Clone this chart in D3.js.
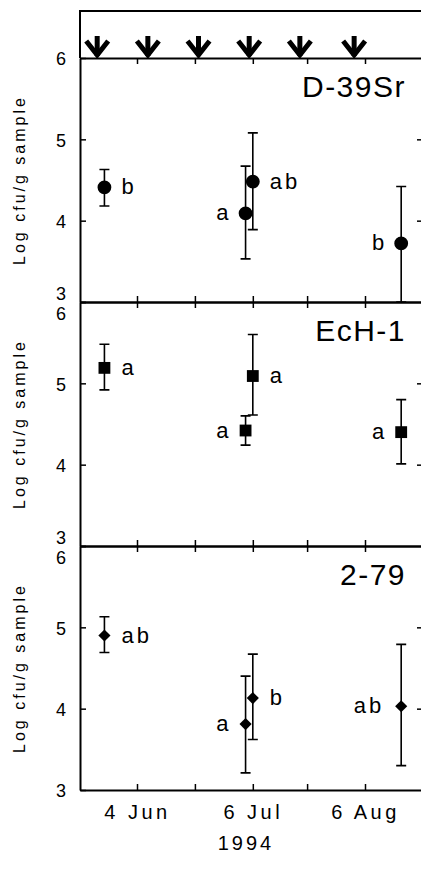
<!DOCTYPE html>
<html>
<head>
<meta charset="utf-8">
<script src="https://cdn.jsdelivr.net/npm/d3@7"></script>
<style>
  body { margin: 0; background: #fff; }
  svg  { display: block; font-family: "Liberation Sans", Arial, Helvetica, sans-serif; }
</style>
</head>
<body>
<svg id="chart" width="421" height="872"></svg>
<script>
const parse = d3.timeParse("%Y-%m-%d");

/* ── DATI ─────────────────────────────────────── */
const panels      = ["D-39Sr", "EcH-1", "2-79"];
const markers     = ["circle", "square", "diamond"];
const sampleDates = ["1994-05-26", "1994-07-04", "1994-07-06", "1994-08-16"];
const means  = [[4.41, 4.09, 4.48, 3.72], [5.19, 4.42, 5.09, 4.40], [4.90, 3.81, 4.13, 4.03]];
const upper  = [[4.63, 4.67, 5.08, 4.42], [5.48, 4.60, 5.60, 4.80], [5.13, 4.40, 4.67, 4.79]];
const lower  = [[4.18, 3.53, 3.89, 3.00], [4.92, 4.24, 4.61, 4.01], [4.69, 3.21, 3.62, 3.30]];
const letters     = [["b", "a", "ab", "b"], ["a", "a", "a", "a"], ["ab", "a", "b", "ab"]];
const letterSide  = [["r", "l", "r", "l"], ["r", "l", "r", "l"], ["r", "l", "r", "l"]];
const sprayDates  = ["1994-05-24", "1994-06-07", "1994-06-21", "1994-07-05", "1994-07-19", "1994-08-03"];
const tickDates   = ["1994-06-04", "1994-06-20", "1994-07-06", "1994-07-21", "1994-08-06"];
const tickLabels  = ["4 Jun", "", "6 Jul", "", "6 Aug"];
const yTicks      = [3, 4, 5, 6];
const yLabel      = "Log cfu/g sample";
const yearLabel   = "1994";

/* ── LAYOUT ───────────────────────────────────── */
const LEFT = 80, RIGHT = 423;
const BOX_TOP = 11, PANEL_TOP = 58, PANEL_H = 244;

const svg = d3.select("#chart");

// scala ancorata su 4 Jun / 6 Aug, poi estesa ai bordi
const xa = d3.scaleTime().domain([parse("1994-06-04"), parse("1994-08-06")]).range([137, 365]);
const x  = d3.scaleTime().domain([xa.invert(LEFT), xa.invert(RIGHT)]).range([LEFT, RIGHT]);

/* ── BOX FRECCE ───────────────────────────────── */
svg.append("path")
  .attr("d", `M${LEFT},${PANEL_TOP}V${BOX_TOP}H${RIGHT}`)
  .attr("fill", "none").attr("stroke", "#000").attr("stroke-width", 2);

const arrows = svg.append("g").attr("stroke", "#000").attr("fill", "none")
  .attr("stroke-width", 5).attr("stroke-linejoin", "miter");
sprayDates.forEach(d => {
  const cx = x(parse(d));
  arrows.append("path").attr("d", `M${cx},36V56`);
  arrows.append("path").attr("d", `M${cx - 11},41L${cx},55L${cx + 11},41`);
});

/* ── PANNELLI ─────────────────────────────────── */
const sym = {
  circle:  d3.symbol(d3.symbolCircle, 150),
  square:  d3.symbol(d3.symbolSquare, 140),
  diamond: d3.symbol(d3.symbolSquare, 74)
};

panels.forEach((name, i) => {
  const top = PANEL_TOP + i * PANEL_H;
  const bot = top + PANEL_H;
  const y = d3.scaleLinear().domain([3, 6]).range([bot, top]);
  const g = svg.append("g");

  // asse sinistro
  const ax = g.append("g").attr("transform", `translate(${LEFT},0)`)
    .call(d3.axisLeft(y).tickValues(yTicks).tickFormat(d3.format("d"))
      .tickSize(-6).tickSizeOuter(0).tickPadding(14));
  ax.select(".domain").attr("stroke-width", 2);
  ax.selectAll(".tick line").attr("stroke-width", 1.5);
  ax.selectAll(".tick text")
    .attr("font-size", 18).attr("font-family", null).attr("fill", "#000")
    .attr("dy", d => {
      if (d === 3 && i < panels.length - 1) return "-0.15em";
      if (d === 6 && i > 0) return "0.95em";
      return "0.38em";
    });

  // asse destro
  const axr = g.append("g").attr("transform", `translate(${RIGHT},0)`)
    .call(d3.axisRight(y).tickValues([4, 5]).tickSize(-6).tickSizeOuter(0).tickFormat(""));
  axr.selectAll(".tick line").attr("stroke-width", 1.5);

  // asse superiore e inferiore
  const axt = g.append("g").attr("transform", `translate(0,${top})`)
    .call(d3.axisTop(x).tickValues(tickDates.map(parse)).tickSize(-6).tickSizeOuter(0).tickFormat(""));
  axt.select(".domain").attr("stroke-width", 2);
  axt.selectAll(".tick line").attr("stroke-width", 1.5);

  const last = i === panels.length - 1;
  const axb = g.append("g").attr("transform", `translate(0,${bot})`)
    .call(d3.axisBottom(x).tickValues(tickDates.map(parse)).tickSize(-6).tickSizeOuter(0)
      .tickPadding(15).tickFormat((d, k) => last ? tickLabels[k] : ""));
  axb.select(".domain").attr("stroke-width", 2);
  axb.selectAll(".tick line").attr("stroke-width", 1.5);
  axb.selectAll(".tick text")
    .attr("font-size", 20).attr("font-family", null).attr("fill", "#000")
    .attr("letter-spacing", "3.5px");

  // etichetta asse y
  g.append("text")
    .attr("transform", `translate(25,${(top + bot) / 2}) rotate(-90)`)
    .attr("text-anchor", "middle")
    .attr("font-size", 16).attr("letter-spacing", "3px")
    .text(yLabel);

  // titolo pannello
  g.append("text")
    .attr("x", 406).attr("y", top + 39)
    .attr("text-anchor", "end")
    .attr("font-size", 30).attr("letter-spacing", "1.5px")
    .text(name);

  const pts = sampleDates.map((d, k) => ({
    x: x(parse(d)), m: means[i][k], hi: upper[i][k], lo: lower[i][k],
    lab: letters[i][k], side: letterSide[i][k]
  }));

  // barre di errore
  const eb = g.append("g").attr("stroke", "#000").attr("stroke-width", 1.6).attr("fill", "none");
  pts.forEach(p => {
    eb.append("path").attr("d",
      `M${p.x},${y(p.hi)}V${y(p.lo)}` +
      `M${p.x - 5},${y(p.hi)}H${p.x + 5}` +
      `M${p.x - 5},${y(p.lo)}H${p.x + 5}`);
  });

  // marker
  g.selectAll(".pt").data(pts).join("path")
    .attr("class", "pt")
    .attr("d", sym[markers[i]])
    .attr("transform", p => `translate(${p.x},${y(p.m)})` + (markers[i] === "diamond" ? " rotate(45)" : ""))
    .attr("fill", "#000");

  // lettere
  g.selectAll(".lab").data(pts).join("text")
    .attr("class", "lab")
    .attr("x", p => p.side === "r" ? p.x + 17 : p.x - 17)
    .attr("y", p => y(p.m))
    .attr("dy", "0.32em")
    .attr("text-anchor", p => p.side === "r" ? "start" : "end")
    .attr("font-size", 22).attr("letter-spacing", p => p.lab.length > 1 ? "3px" : null)
    .text(p => p.lab);
});

/* ── ANNO ─────────────────────────────────────── */
svg.append("text")
  .attr("x", 246).attr("y", 850)
  .attr("text-anchor", "middle")
  .attr("font-size", 20).attr("letter-spacing", "3px")
  .text(yearLabel);
</script>
</body>
</html>
